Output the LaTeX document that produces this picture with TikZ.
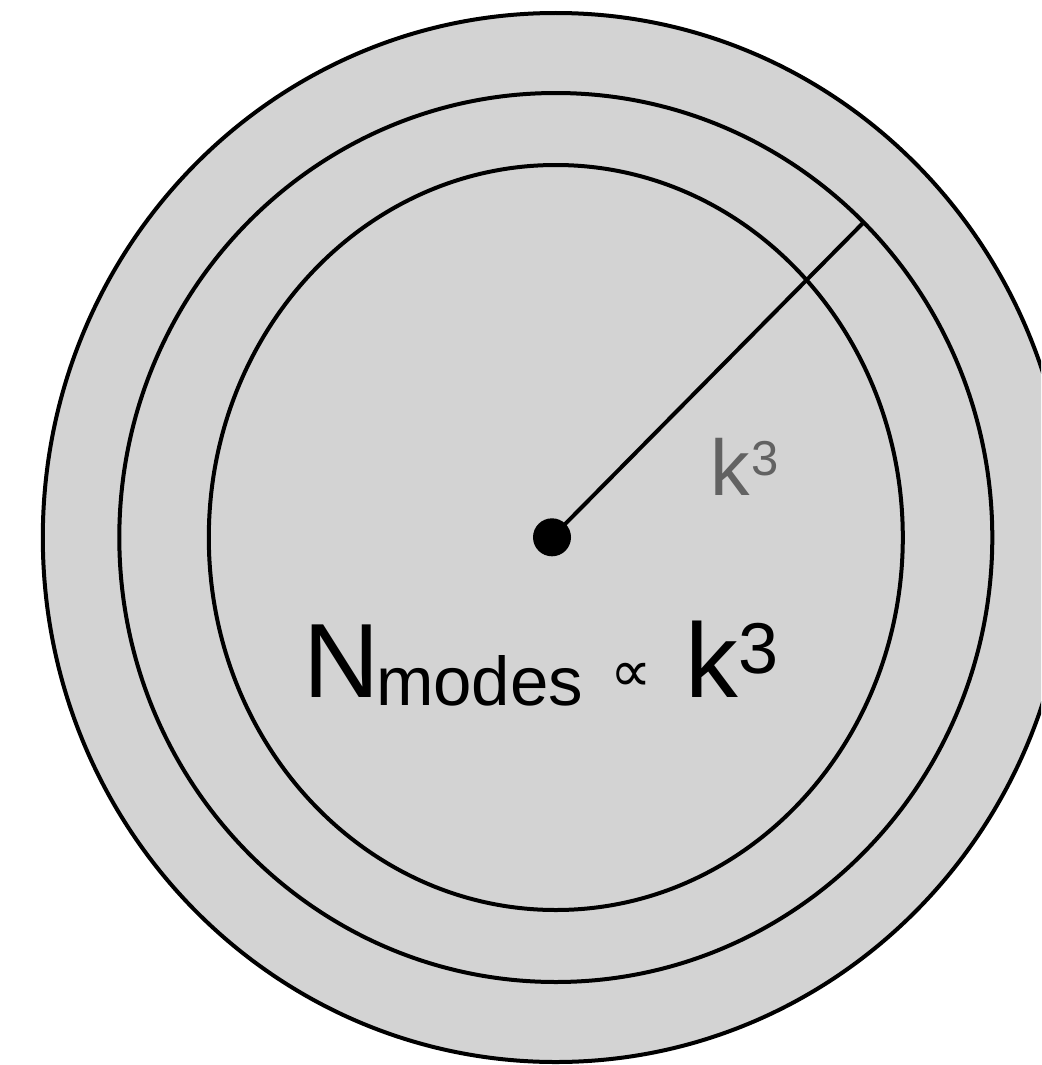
\documentclass[tikz,border=0pt]{standalone}
\usepackage{fontspec}
\setmainfont{Liberation Sans}
\newfontfamily\symfont{DejaVu Sans}
\begin{document}
\begin{tikzpicture}[x=1pt,y=-1pt,
  ring/.style={draw=black,line width=4pt},
  lbl/.style={inner sep=0pt,anchor=base west,text=black}]
\definecolor{ringgray}{RGB}{211,211,211}
\definecolor{lblgray}{RGB}{98,98,98}
\useasboundingbox (0,0) rectangle (1041,1065);
\clip (0,0) rectangle (1041,1065);
\coordinate (c) at (555.8,537.5);
\fill[ringgray] (c) ellipse [x radius=513pt,y radius=524.5pt];
\draw[ring] (c) ellipse [x radius=513pt,y radius=524.5pt];
\draw[ring] (c) ellipse [x radius=436.5pt,y radius=444.5pt];
\draw[ring] (c) ellipse [x radius=347pt,y radius=372.5pt];
\node[circle,fill=black,minimum size=38pt,inner sep=0pt] (dot) at (552,537.3) {};
\coordinate (rim) at (863,223);
\draw[line width=4pt] (dot.center) -- (rim);
% small label
\node[lbl,text=lblgray] (kl) at (709.8,495) {\fontsize{79pt}{80pt}\selectfont k};
\node[lbl,text=lblgray] (kle) at (751,475) {\fontsize{49pt}{50pt}\selectfont 3};
% formula
\node[lbl] (fN) at (303,697) {\fontsize{105.6pt}{110pt}\selectfont N};
\node[lbl] (fsub) at (375.8,705) {\fontsize{69pt}{70pt}\selectfont modes};
\node[inner sep=0pt] (fprop) at (631.5,677.5) {\symfont\fontsize{58pt}{60pt}\selectfont ∝};
\node[lbl] (fk) at (685,697) {\fontsize{105.6pt}{110pt}\selectfont k};
\node[lbl] (fexp) at (737.8,673) {\fontsize{72pt}{75pt}\selectfont 3};
\end{tikzpicture}
\end{document}
